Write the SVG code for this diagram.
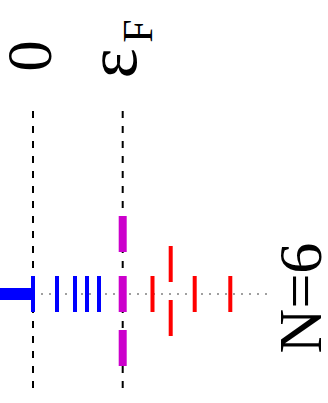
<svg xmlns="http://www.w3.org/2000/svg" width="328" height="403" viewBox="0 0 328 403">
<style>
.lbl{font-family:"Liberation Serif","Times New Roman",serif;fill:#000}
.dash{stroke:#000;stroke-width:2;stroke-dasharray:7 8;fill:none}
.dot{stroke:#808080;stroke-width:1.5;stroke-dasharray:2 6;fill:none}
.blue{fill:#0000ff}
.red{fill:#ff0000}
.mag{fill:#cc00cc}
</style>
<rect width="328" height="403" fill="#fff"/>
<g id="labels">
<text class="lbl" transform="translate(50.5,56) rotate(-90)" text-anchor="middle" font-size="63">0</text>
<text class="lbl" transform="translate(135.5,63.5) rotate(-90)" text-anchor="middle" font-size="72">ε</text>
<text class="lbl" transform="translate(151.5,31) rotate(-90)" text-anchor="middle" font-size="42">F</text>
<text class="lbl" transform="translate(320.5,298) rotate(-90)" text-anchor="middle" font-size="62">N=6</text>
</g>
<g id="connectors">
<line class="dash" x1="33" y1="111" x2="33" y2="390"/>
<line class="dash" x1="122.7" y1="111" x2="122.7" y2="390"/>
<line class="dot" x1="33" y1="294" x2="268" y2="294"/>
</g>
<g id="blue-levels">
<rect class="blue" x="0" y="288" width="33" height="12"/>
<rect class="blue" x="31" y="276" width="4" height="36"/>
<rect class="blue" x="55" y="276" width="4" height="36"/>
<rect class="blue" x="73" y="276" width="4" height="36"/>
<rect class="blue" x="85" y="276" width="4" height="36"/>
<rect class="blue" x="97" y="276" width="4" height="36"/>
</g>
<g id="magenta-levels">
<rect class="mag" x="118.7" y="216" width="8" height="36"/>
<rect class="mag" x="118.7" y="276" width="8" height="36"/>
<rect class="mag" x="118.7" y="330" width="8" height="36"/>
</g>
<g id="red-levels">
<rect class="red" x="150.5" y="276" width="4" height="36"/>
<rect class="red" x="168.7" y="246" width="4" height="36"/>
<rect class="red" x="168.7" y="300" width="4" height="36"/>
<rect class="red" x="192.7" y="276" width="4" height="36"/>
<rect class="red" x="228.3" y="276" width="4" height="36"/>
</g>
</svg>
